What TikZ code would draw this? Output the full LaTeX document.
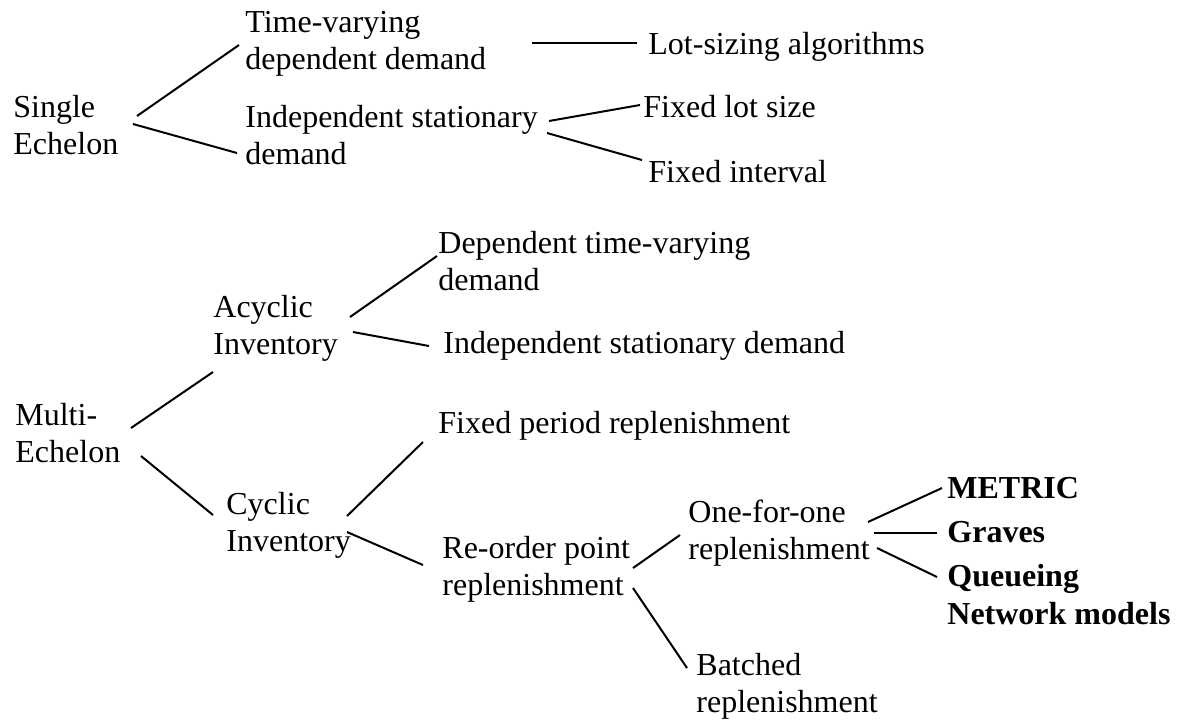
\documentclass[tikz,border=0pt]{standalone}
\usepackage{fontspec}
\setmainfont{Liberation Serif}
\begin{document}
\begin{tikzpicture}[x=0.5pt,y=-0.5pt,
  lbl/.style={anchor=base west,inner sep=0pt,align=left,font=\fontsize{16}{18.75}\selectfont},
  blbl/.style={lbl,font=\fontsize{16}{18.75}\selectfont\bfseries},
  link/.style={line width=1pt}]
\useasboundingbox (0,0) rectangle (1186,724);
% nodes (base = baseline of the last line)
\node[lbl] (se) at (13,154.5) {Single\\Echelon};
\node[lbl] (tv) at (245,69.5) {Time-varying\\dependent demand};
\node[lbl] (is1) at (245,164.5) {Independent stationary\\demand};
\node[lbl] (lot) at (648,54) {Lot-sizing algorithms};
\node[lbl] (fls) at (643,117) {Fixed lot size};
\node[lbl] (fi) at (648,182) {Fixed interval};
\node[lbl] (me) at (15,462.5) {Multi-\\Echelon};
\node[lbl] (ai) at (213,354.5) {Acyclic\\Inventory};
\node[lbl] (dtv) at (438,290.5) {Dependent time-varying\\demand};
\node[lbl] (isd) at (443,353) {Independent stationary demand};
\node[lbl] (ci) at (226,551.5) {Cyclic\\Inventory};
\node[lbl] (fpr) at (438,433) {Fixed period replenishment};
\node[lbl] (rop) at (442,595.5) {Re-order point\\replenishment};
\node[lbl] (ofo) at (688,559.5) {One-for-one\\replenishment};
\node[lbl] (br) at (696,712.5) {Batched\\replenishment};
\node[blbl] (metric) at (947,498) {METRIC};
\node[blbl] (graves) at (947,542) {Graves};
\node[blbl] (queue) at (947,624) {Queueing\\Network models};
% connector end points
\coordinate (se-up) at (137,116);   \coordinate (tv-in) at (239,45);
\coordinate (se-dn) at (133,124);   \coordinate (is1-in) at (237,153);
\coordinate (tv-out) at (532,43);   \coordinate (lot-in) at (637,43);
\coordinate (is1-up) at (549,121);  \coordinate (fls-in) at (640,105);
\coordinate (is1-dn) at (547,133);  \coordinate (fi-in) at (642,160);
\coordinate (me-up) at (131,428);   \coordinate (ai-in) at (213,372);
\coordinate (me-dn) at (141,456);   \coordinate (ci-in) at (213,515);
\coordinate (ai-up) at (350,317);   \coordinate (dtv-in) at (437,256);
\coordinate (ai-dn) at (353,332);   \coordinate (isd-in) at (429,346);
\coordinate (ci-up) at (347,516);   \coordinate (fpr-in) at (423,442);
\coordinate (ci-dn) at (347,532);   \coordinate (rop-in) at (423,565);
\coordinate (rop-up) at (633,568);  \coordinate (ofo-in) at (680,535);
\coordinate (rop-dn) at (633,588);  \coordinate (br-in) at (687,668);
\coordinate (ofo-up) at (868,522);  \coordinate (metric-in) at (942,488);
\coordinate (ofo-mid) at (874,533); \coordinate (graves-in) at (937,533);
\coordinate (ofo-dn) at (877,548);  \coordinate (queue-in) at (937,577);
% connectors
\draw[link] (se-up) -- (tv-in);
\draw[link] (se-dn) -- (is1-in);
\draw[link] (tv-out) -- (lot-in);
\draw[link] (is1-up) -- (fls-in);
\draw[link] (is1-dn) -- (fi-in);
\draw[link] (me-up) -- (ai-in);
\draw[link] (me-dn) -- (ci-in);
\draw[link] (ai-up) -- (dtv-in);
\draw[link] (ai-dn) -- (isd-in);
\draw[link] (ci-up) -- (fpr-in);
\draw[link] (ci-dn) -- (rop-in);
\draw[link] (rop-up) -- (ofo-in);
\draw[link] (rop-dn) -- (br-in);
\draw[link] (ofo-up) -- (metric-in);
\draw[link] (ofo-mid) -- (graves-in);
\draw[link] (ofo-dn) -- (queue-in);
\end{tikzpicture}
\end{document}
